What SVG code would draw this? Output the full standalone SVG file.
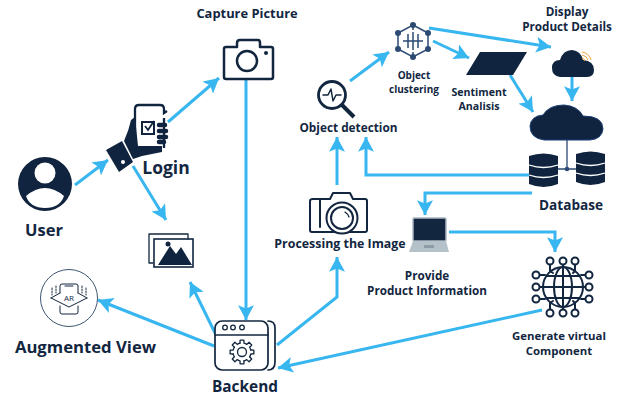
<svg xmlns="http://www.w3.org/2000/svg" width="625" height="396" viewBox="0 0 625 396">
<style>
text{font-family:"Open Sans","Liberation Sans",sans-serif;font-weight:700;fill:#12263f;text-anchor:middle}
.f{fill:#10243f}
.s{fill:none;stroke:#12263f;stroke-width:2;stroke-linecap:round;stroke-linejoin:round}
.t{fill:none;stroke:#12263f;stroke-width:1.3;stroke-linecap:round;stroke-linejoin:round}
.c{fill:none;stroke:#38b6ef;stroke-width:3;stroke-linejoin:miter}
</style>
<defs>
<marker id="a" markerUnits="userSpaceOnUse" markerWidth="16" markerHeight="16" refX="13" refY="7" orient="auto" viewBox="0 0 14 14">
<path d="M0 0L13 7L0 14L3 7Z" fill="#38b6ef"/>
</marker>
<g id="cyl"><path d="M0 3Q14.500 -2 29 3V31Q14.500 37 0 31Z" class="f"/><path d="M0 12Q14.500 17 29 12M0 22Q14.500 27 29 22" fill="none" stroke="#fff" stroke-width="1.300"/></g>
<path id="gt" class="t" d="M8.770 -2.020L11.850 -1.880V1.880L8.770 2.020A9 9 0 0 1 7.630 4.770"/>
</defs>
<rect width="625" height="396" fill="#fff"/>
<g id="connectors">
<path class="c" marker-end="url(#a)" d="M75 185L108 160"/>
<path class="c" marker-end="url(#a)" d="M168 122L219 78"/>
<path class="c" marker-end="url(#a)" d="M133 166L166 220"/>
<path class="c" marker-end="url(#a)" d="M246 79V320"/>
<path class="c" marker-end="url(#a)" d="M214 346L98 300"/>
<path class="c" marker-end="url(#a)" d="M217 337L190 282"/>
<path class="c" marker-end="url(#a)" d="M277 345L337 297V257"/>
<path class="c" marker-end="url(#a)" d="M542 310L278 368"/>
<path class="c" marker-end="url(#a)" d="M337 185V137"/>
<path class="c" marker-end="url(#a)" d="M529 175H366V137"/>
<path class="c" marker-end="url(#a)" d="M350 81L389 52"/>
<path class="c" marker-end="url(#a)" d="M429 28L551 47"/>
<path class="c" marker-end="url(#a)" d="M433 41L469 58"/>
<path class="c" marker-end="url(#a)" d="M510 75L533 112"/>
<path class="c" marker-end="url(#a)" d="M572 77V101"/>
<path class="c" marker-end="url(#a)" d="M532 193H425V215"/>
<path class="c" marker-end="url(#a)" d="M449 232H555V252"/>
</g>
<g id="user">
<circle cx="45" cy="184" r="27" class="f"/>
<circle cx="45" cy="173" r="10.500" fill="#fff"/>
<path d="M26 196Q45 180 64 196Q60 208 45 208Q30 208 26 196Z" fill="#fff"/>
<text x="44" y="236" font-size="16.500">User</text>
</g>
<g id="login">
<path class="f" d="M106 150L122 141L133 162L119 172Z"/>
<circle cx="123" cy="162" r="2" fill="#fff"/>
<path class="f" d="M124 141Q129 130 131 120L135 117L138 146H162V152L142 156L133 159Z"/>
<path d="M135 149V109Q135 105 139 105H160Q164 105 164 109V113L167 111M164 118V148" fill="none" stroke="#10243f" stroke-width="2.300"/>
<path d="M159 125H165M159 131H166M159 137H166M159 142H164" stroke="#10243f" stroke-width="4.500" stroke-linecap="round"/>
<rect x="142" y="122" width="12" height="12" fill="none" stroke="#10243f" stroke-width="2"/>
<path d="M145 126L148 130L154 121" fill="none" stroke="#10243f" stroke-width="1.800"/>
<text x="166" y="174" font-size="17.500">Login</text>
</g>
<g id="gallery">
<path class="t" stroke-width="1.600" d="M153 263H149V234H188V239"/>
<rect x="154" y="239" width="39" height="28" fill="none" stroke="#12263f" stroke-width="1.600"/>
<path class="f" d="M158 265L170 246L176 254L181 247L192 265Z"/>
<circle cx="168" cy="244" r="2.500" class="f"/>
</g>
<g id="capture">
<text x="247" y="18" font-size="12.900">Capture Picture</text>
<path class="s" d="M226 47H237V43Q237 40 240 40H258Q260 40 260 43V47H271Q273 47 273 49V77Q273 79 271 79H226Q224 79 224 77V49Q224 47 226 47Z" style="stroke-width:2.500"/>
<circle cx="247" cy="61" r="10" fill="none" stroke="#12263f" stroke-width="2.500"/>
<circle cx="266" cy="53" r="2" class="f"/>
</g>
<g id="ar">
<circle cx="69" cy="298" r="28.500" fill="#fff" stroke="#3e5674" stroke-width="1"/>
<path class="t" style="stroke-width:1" d="M60 293V286Q60 284 62 284H76Q78 284 78 286V293M60 306V312Q60 314 62 314H76Q78 314 78 312V306M65 286H73M51 298L60 293M87 298L78 293M51 298L69 307L87 298"/>
<text x="69" y="301" font-size="8" style="font-weight:400">AR</text>
<path class="t" style="stroke-width:1" stroke-dasharray="1.500 1.500" d="M52 288V295M56 286V293M82 286V293M86 288V295"/>
<text x="85.500" y="353" font-size="16.700">Augmented View</text>
</g>
<g id="backend">
<path class="s" style="stroke-width:1.700" d="M268 321Q275 321 275 328V362Q275 370 268 370"/>
<rect x="215" y="321" width="53" height="49" rx="7" fill="#fff" stroke="#12263f" stroke-width="1.700"/>
<path class="t" style="stroke-width:1.700" d="M215 335H268"/>
<circle cx="225" cy="327.500" r="2.300" class="t"/><circle cx="233" cy="327.500" r="2.300" class="t"/><circle cx="242" cy="327.500" r="2.300" class="t"/>
<g transform="translate(242 352)"><use href="#gt"/><use href="#gt" transform="rotate(45)"/><use href="#gt" transform="rotate(90)"/><use href="#gt" transform="rotate(135)"/><use href="#gt" transform="rotate(180)"/><use href="#gt" transform="rotate(225)"/><use href="#gt" transform="rotate(270)"/><use href="#gt" transform="rotate(315)"/><circle r="4.500" class="t"/></g>
<text x="245" y="392" font-size="15.400">Backend</text>
</g>
<g id="processing">
<path class="s" d="M313 199H330L333 193H350L353 199H365Q367 199 367 201V230Q367 232 365 232H312Q310 232 310 230V201Q310 199 313 199Z"/>
<path class="s" d="M320 199V227"/>
<circle cx="342" cy="218" r="15.500" fill="#fff" stroke="#12263f" stroke-width="2"/>
<circle cx="342" cy="218" r="11" class="s"/>
<path class="t" d="M345 212Q348 214 349 217"/>
<text x="340" y="248" font-size="12.400">Processing the Image</text>
</g>
<g id="detection">
<circle cx="332" cy="95" r="13.500" fill="none" stroke="#12263f" stroke-width="2.800"/>
<path d="M342 105L354 117" stroke="#12263f" stroke-width="4"/>
<path class="t" style="stroke-width:1.500" d="M323 95H328L331 89L333 101L336 95H341"/>
<text x="348.500" y="132" font-size="11.800">Object detection</text>
</g>
<g id="clustering">
<path fill="none" stroke="#2c4a73" stroke-width="1.500" d="M413 25L428 33V49L413 57L398 49V33Z"/>
<g fill="#2c4a73"><circle cx="413" cy="25" r="3"/><circle cx="428" cy="33" r="3"/><circle cx="428" cy="49" r="3"/><circle cx="413" cy="57" r="3"/><circle cx="398" cy="49" r="3"/><circle cx="398" cy="33" r="3"/></g>
<path fill="none" stroke="#2c4a73" stroke-width="1.500" d="M403 41H423M408 34V48M413 32V50M418 34V48M413 25V30M413 52V57"/>
<text x="414" y="79" font-size="10">Object</text>
<text x="414" y="93" font-size="10">clustering</text>
</g>
<g id="sentiment">
<path class="f" d="M480 52H527L513 75H466Z"/>
<text x="479" y="96" font-size="10.600">Sentiment</text>
<text x="479" y="110" font-size="10.600">Analisis</text>
</g>
<g id="details">
<text x="567" y="16" font-size="11.700">Display</text>
<text x="567" y="31" font-size="11.700">Product Details</text>
<path class="f" d="M560 77Q552 76 552 68Q552 60 560 60Q563 50 572 50Q581 51 583 60Q594 61 594 70Q594 77 587 77Z"/>
<path d="M582 52Q589 53 591 60M582 55Q587 56 588 60M582 58Q584 58 585 61" fill="none" stroke="#f0a33c" stroke-width="1"/>
</g>
<g id="database">
<path class="f" stroke="#1d3f78" stroke-width="1" d="M544 140Q530 138 530 126Q531 116 543 115Q549 105 564 105Q578 106 583 116Q603 116 603 129Q602 139 590 140Z"/>
<path d="M567 140V169M558 169H576" stroke="#2c4a73" stroke-width="1.300"/>
<circle cx="567" cy="169" r="2.300" fill="#2c4a73"/>
<use href="#cyl" x="529" y="153"/>
<use href="#cyl" x="576" y="151"/>
<text x="571" y="210" font-size="13.600">Database</text>
</g>
<g id="provide">
<rect x="413" y="218" width="33" height="23" rx="1" fill="#12263f" stroke="#a9b8c2" stroke-width="1.500"/>
<path d="M413 241H446L449 252H409Z" fill="#b4c1c9"/>
<rect x="424" y="245" width="10" height="3" fill="#8d9ca6"/>
<text x="427" y="280" font-size="11.700">Provide</text>
<text x="427" y="295" font-size="11.700">Product Information</text>
</g>
<g id="virtual">
<circle cx="563" cy="287" r="20" class="s"/>
<ellipse cx="563" cy="287" rx="9" ry="20" class="s"/>
<path class="s" d="M563 267V307M543 287H583M547 276H579M547 298H579"/>
<path class="s" d="M550 265V271L553 273M563 265V267M575 265V271L573 273M537 275H545M537 287H543M589 287H583M589 275H581M537 299H545M589 299H581M550 309V303L553 301M563 309V307M575 309V303L573 301"/>
<g fill="#fff" stroke="#12263f" stroke-width="2"><circle cx="550" cy="261" r="3.500"/><circle cx="563" cy="261" r="3.500"/><circle cx="575" cy="261" r="3.500"/><circle cx="536" cy="275" r="3.500"/><circle cx="536" cy="287" r="3.500"/><circle cx="536" cy="299" r="3.500"/><circle cx="589" cy="275" r="3.500"/><circle cx="589" cy="287" r="3.500"/><circle cx="589" cy="299" r="3.500"/><circle cx="550" cy="313" r="3.500"/><circle cx="563" cy="313" r="3.500"/><circle cx="575" cy="313" r="3.500"/></g>
<text x="559" y="340" font-size="11.400">Generate virtual</text>
<text x="559" y="355" font-size="11.400">Component</text>
</g>
</svg>
